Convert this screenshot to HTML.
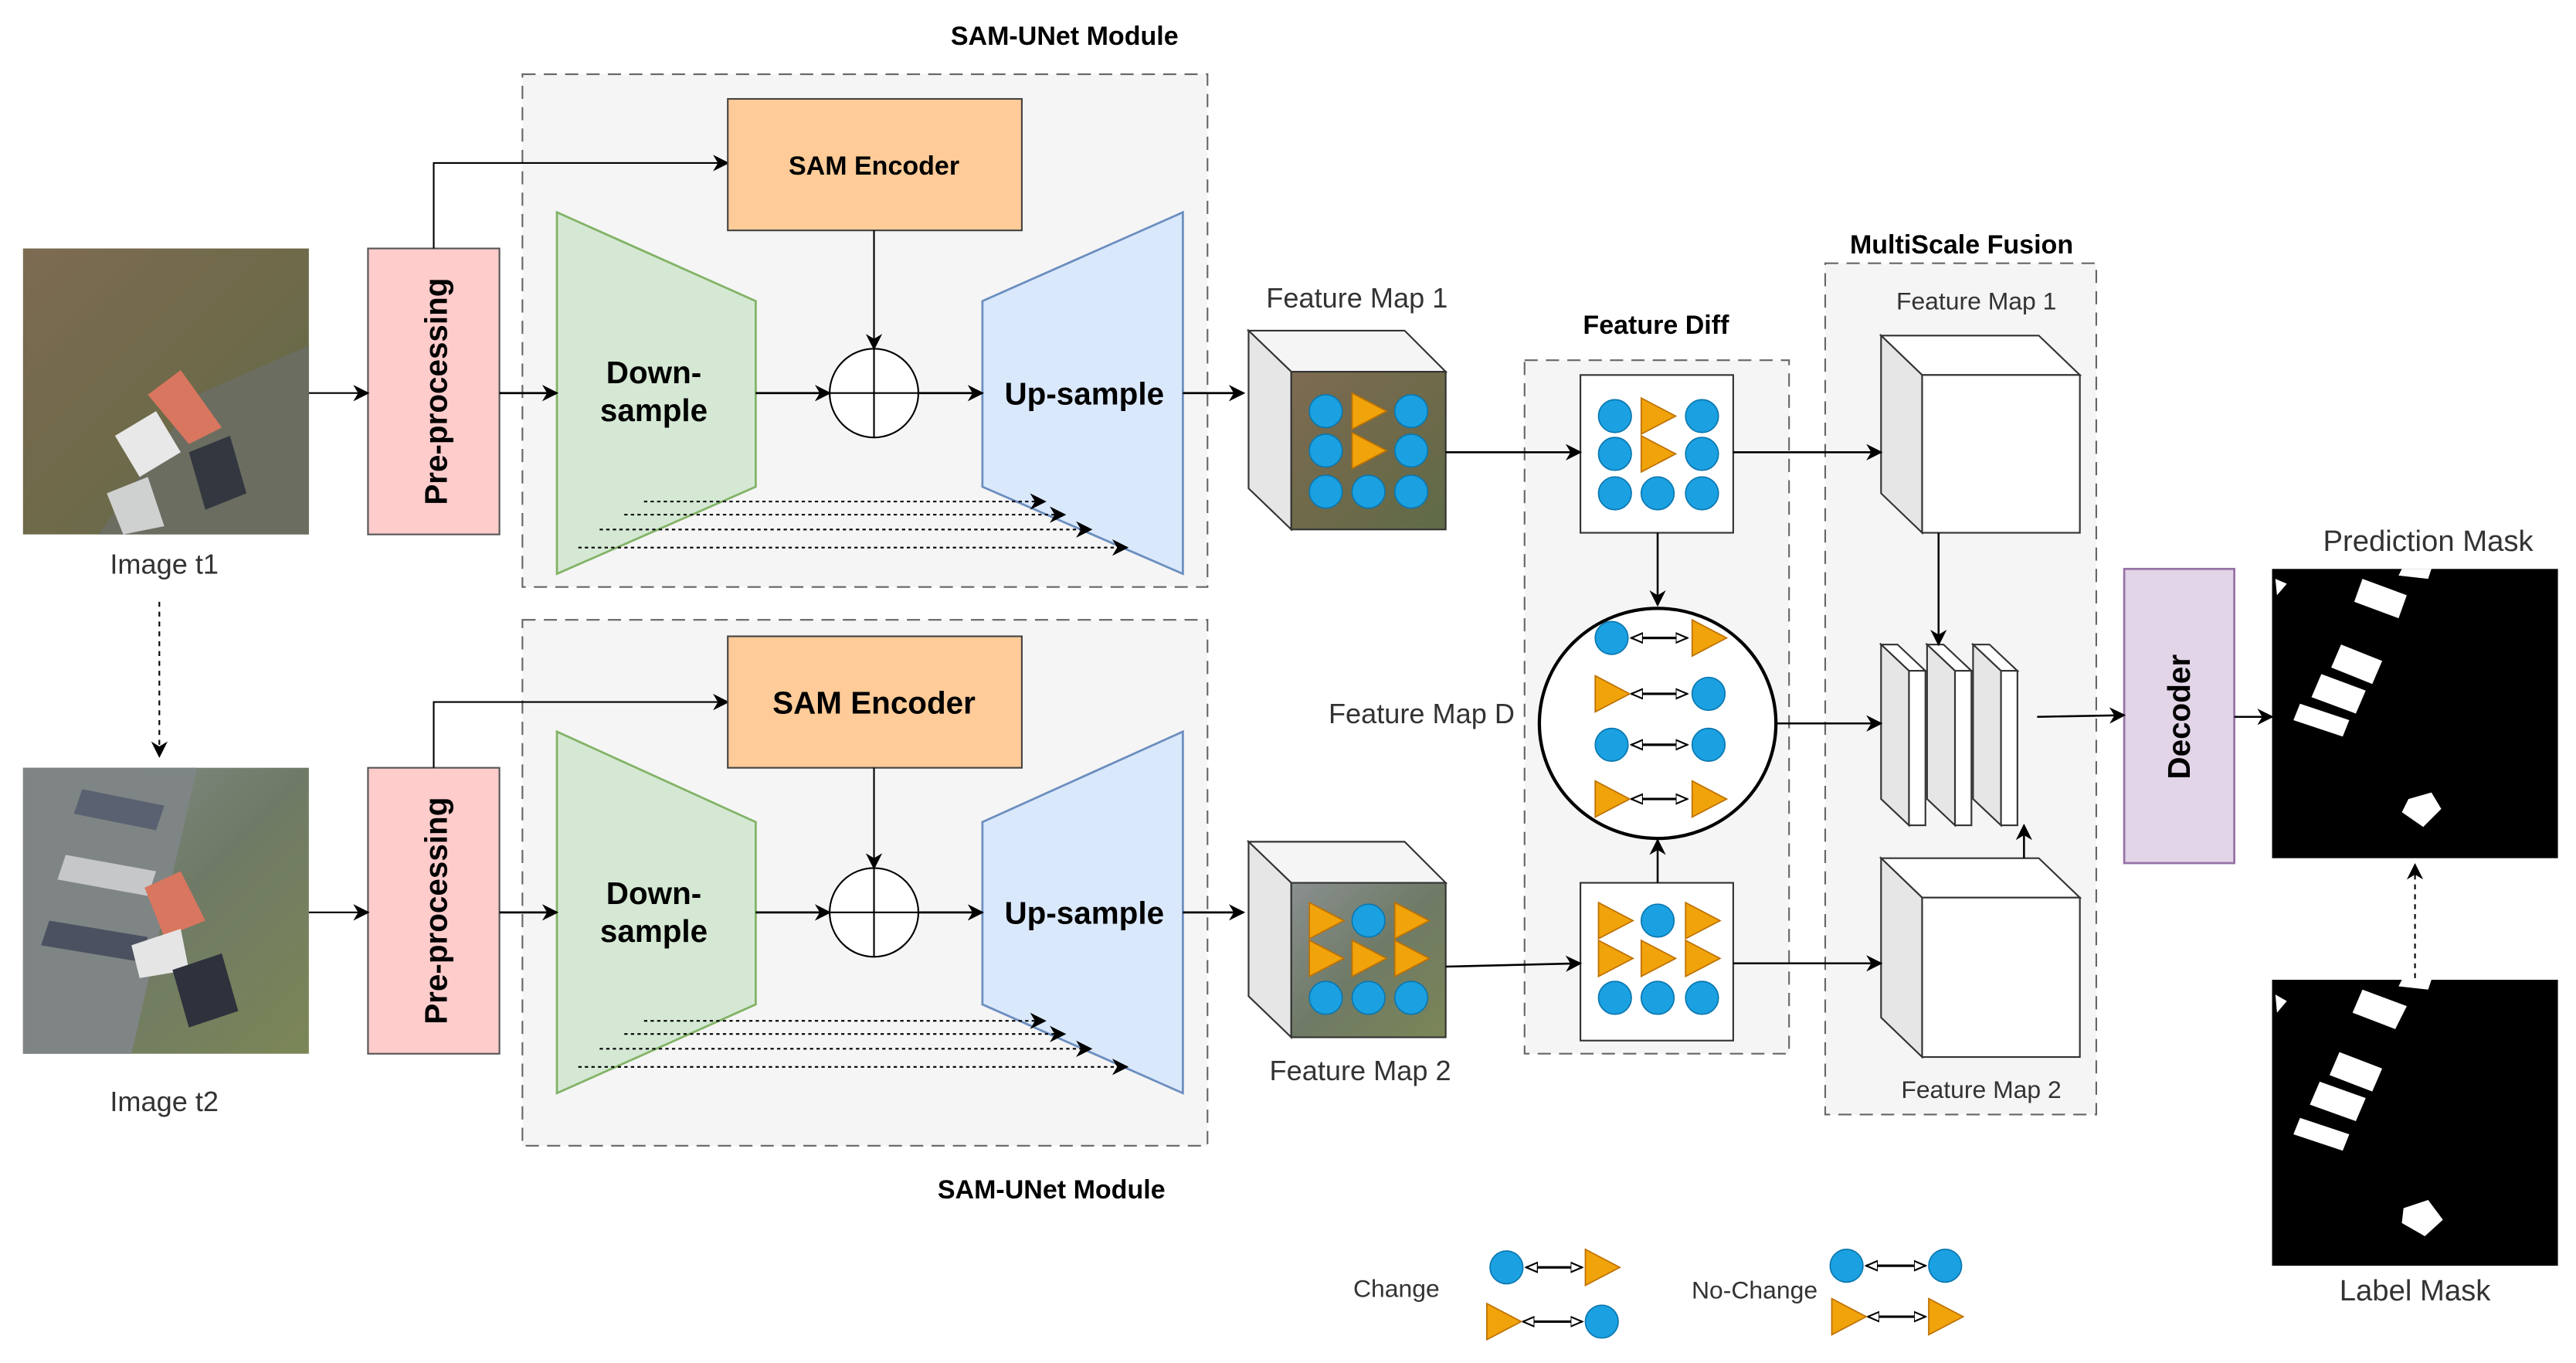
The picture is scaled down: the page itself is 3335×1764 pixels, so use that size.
<!DOCTYPE html>
<html><head><meta charset="utf-8"><style>
html,body{margin:0;padding:0;background:#fff;}
svg{display:block;}
text{font-family:"Liberation Sans",sans-serif;}
</style></head><body>
<svg width="3335" height="1764" viewBox="0 0 1568 829" xmlns="http://www.w3.org/2000/svg">
<defs>
<marker id="ah" markerWidth="10" markerHeight="10" refX="9" refY="5" orient="auto" markerUnits="userSpaceOnUse"><path d="M0,0 L10,5 L0,10 L3,5 Z" fill="#000"/></marker>
<marker id="oe" markerWidth="8" markerHeight="8" refX="7" refY="4" orient="auto" markerUnits="userSpaceOnUse"><path d="M0,1 L7,4 L0,7 Z" fill="#fff" stroke="#000" stroke-width="1"/></marker>
<marker id="os" markerWidth="8" markerHeight="8" refX="1" refY="4" orient="auto" markerUnits="userSpaceOnUse"><path d="M8,1 L1,4 L8,7 Z" fill="#fff" stroke="#000" stroke-width="1"/></marker>
<linearGradient id="g1" x1="0" y1="0" x2="1" y2="1"><stop offset="0" stop-color="#7d6b52"/><stop offset="0.5" stop-color="#6f6a4a"/><stop offset="1" stop-color="#5f6b47"/></linearGradient>
<linearGradient id="g2" x1="0" y1="0" x2="1" y2="1"><stop offset="0" stop-color="#8a9090"/><stop offset="0.5" stop-color="#6f7a66"/><stop offset="1" stop-color="#7b8656"/></linearGradient>
<g id="C"><circle r="10" fill="#1ba1e2" stroke="#0b78b0" stroke-width="0.8"/></g>
<g id="T"><polygon points="-10,-11 11,0 -10,11" fill="#f0a30a" stroke="#bd7000" stroke-width="0.8"/></g>
</defs>

<text x="648" y="27" font-size="16" font-weight="bold" text-anchor="middle">SAM-UNet Module</text>
<text x="640" y="729" font-size="16" font-weight="bold" text-anchor="middle">SAM-UNet Module</text>

<rect x="318" y="45" width="417" height="312" fill="#f5f5f5" stroke="#666" stroke-dasharray="8,5"/>
<rect x="318" y="377" width="417" height="320" fill="#f5f5f5" stroke="#666" stroke-dasharray="8,5"/>

<rect x="14" y="151" width="174" height="174" fill="url(#g1)"/>
<polygon points="60,325 120,240 188,210 188,325" fill="#6b6d60"/>
<polygon points="90,240 110,225 135,260 115,270" fill="#d9765f"/>
<polygon points="70,265 95,250 110,275 85,290" fill="#e8e8e8"/>
<polygon points="115,275 140,265 150,300 125,310" fill="#333840"/>
<polygon points="65,300 90,290 100,320 75,325" fill="#cfd0d0"/>
<text x="100" y="349" font-size="17" text-anchor="middle" fill="#333">Image t1</text>
<rect x="14" y="467" width="174" height="174" fill="url(#g2)"/>
<polygon points="14,467 120,467 80,641 14,641" fill="#7f8585"/>
<polygon points="50,480 100,490 95,505 45,495" fill="#5a6170"/>
<polygon points="40,520 95,530 90,545 35,535" fill="#c5c7c8"/>
<polygon points="30,560 90,570 85,585 25,575" fill="#4b5160"/>
<polygon points="88,540 110,530 125,560 100,570" fill="#d9765f"/>
<polygon points="80,575 110,565 115,590 85,595" fill="#e5e5e5"/>
<polygon points="105,590 135,580 145,615 115,625" fill="#2d323c"/>
<text x="100" y="676" font-size="17" text-anchor="middle" fill="#333">Image t2</text>
<line x1="97" y1="366" x2="97" y2="460" stroke="#000" stroke-dasharray="3,3" marker-end="url(#ah)"/>

<rect x="224" y="151" width="80" height="174" fill="#ffcccc" stroke="#555"/>
<text transform="translate(272,238) rotate(-90)" font-size="19" font-weight="bold" text-anchor="middle">Pre-processing</text>
<rect x="224" y="467" width="80" height="174" fill="#ffcccc" stroke="#555"/>
<text transform="translate(272,554) rotate(-90)" font-size="19" font-weight="bold" text-anchor="middle">Pre-processing</text>
<line x1="188" y1="239" x2="224" y2="239" stroke="#000" marker-end="url(#ah)"/>
<line x1="188" y1="555" x2="224" y2="555" stroke="#000" marker-end="url(#ah)"/>
<polyline points="264,151 264,99 443,99" fill="none" stroke="#000" marker-end="url(#ah)"/>
<polyline points="264,467 264,427 443,427" fill="none" stroke="#000" marker-end="url(#ah)"/>

<rect x="443" y="60" width="179" height="80" fill="#ffcc99" stroke="#444"/>
<text x="532" y="106" font-size="16" font-weight="bold" text-anchor="middle">SAM  Encoder</text>
<rect x="443" y="387" width="179" height="80" fill="#ffcc99" stroke="#444"/>
<text x="532" y="434" font-size="19" font-weight="bold" text-anchor="middle">SAM Encoder</text>

<polygon points="339,129 460,183 460,296 339,349" fill="#d5e8d4" stroke="#82b366" stroke-width="1.3"/>
<text x="398" y="233" font-size="19" font-weight="bold" text-anchor="middle">Down-</text>
<text x="398" y="256" font-size="19" font-weight="bold" text-anchor="middle">sample</text>
<polygon points="339,445 460,500 460,611 339,665" fill="#d5e8d4" stroke="#82b366" stroke-width="1.3"/>
<text x="398" y="550" font-size="19" font-weight="bold" text-anchor="middle">Down-</text>
<text x="398" y="573" font-size="19" font-weight="bold" text-anchor="middle">sample</text>
<polygon points="598,183 720,129 720,349 598,296" fill="#dae8fc" stroke="#6c8ebf" stroke-width="1.3"/>
<text x="660" y="246" font-size="19" font-weight="bold" text-anchor="middle">Up-sample</text>
<polygon points="598,500 720,445 720,665 598,611" fill="#dae8fc" stroke="#6c8ebf" stroke-width="1.3"/>
<text x="660" y="562" font-size="19" font-weight="bold" text-anchor="middle">Up-sample</text>

<g stroke="#000" fill="#fff"><circle cx="532" cy="239" r="27"/><circle cx="532" cy="555" r="27"/></g>
<g stroke="#000"><line x1="505" y1="239" x2="559" y2="239"/><line x1="532" y1="212" x2="532" y2="266"/>
<line x1="505" y1="555" x2="559" y2="555"/><line x1="532" y1="528" x2="532" y2="582"/></g>
<line x1="532" y1="140" x2="532" y2="212" stroke="#000" marker-end="url(#ah)"/>
<line x1="532" y1="467" x2="532" y2="528" stroke="#000" marker-end="url(#ah)"/>
<g stroke="#000" stroke-width="1.3">
<line x1="304" y1="239" x2="339" y2="239" marker-end="url(#ah)"/>
<line x1="460" y1="239" x2="505" y2="239" marker-end="url(#ah)"/>
<line x1="559" y1="239" x2="598" y2="239" marker-end="url(#ah)"/>
<line x1="720" y1="239" x2="757" y2="239" marker-end="url(#ah)"/>
<line x1="304" y1="555" x2="339" y2="555" marker-end="url(#ah)"/>
<line x1="460" y1="555" x2="505" y2="555" marker-end="url(#ah)"/>
<line x1="559" y1="555" x2="598" y2="555" marker-end="url(#ah)"/>
<line x1="720" y1="555" x2="757" y2="555" marker-end="url(#ah)"/>
</g>
<g stroke="#000" stroke-dasharray="2,2">
<line x1="392" y1="305" x2="636" y2="305" marker-end="url(#ah)"/>
<line x1="380" y1="313" x2="648" y2="313" marker-end="url(#ah)"/>
<line x1="365" y1="322" x2="664" y2="322" marker-end="url(#ah)"/>
<line x1="352" y1="333" x2="686" y2="333" marker-end="url(#ah)"/>
<line x1="392" y1="621" x2="636" y2="621" marker-end="url(#ah)"/>
<line x1="380" y1="629" x2="648" y2="629" marker-end="url(#ah)"/>
<line x1="365" y1="638" x2="664" y2="638" marker-end="url(#ah)"/>
<line x1="352" y1="649" x2="686" y2="649" marker-end="url(#ah)"/>
</g>

<text x="826" y="187" font-size="17" text-anchor="middle" fill="#333">Feature Map 1</text>
<polygon points="760,201 855,201 880,226 786,226" fill="#f5f5f5" stroke="#333"/>
<polygon points="760,201 786,226 786,322 760,297" fill="#e6e6e6" stroke="#333"/>
<rect x="786" y="226" width="94" height="96" fill="url(#g1)" stroke="#333"/>
<use href="#C" x="807" y="250"/><use href="#T" x="833" y="250"/><use href="#C" x="859" y="250"/>
<use href="#C" x="807" y="274"/><use href="#T" x="833" y="274"/><use href="#C" x="859" y="274"/>
<use href="#C" x="807" y="299"/><use href="#C" x="833" y="299"/><use href="#C" x="859" y="299"/>
<text x="828" y="657" font-size="17" text-anchor="middle" fill="#333">Feature Map 2</text>
<polygon points="760,512 855,512 880,537 786,537" fill="#f5f5f5" stroke="#333"/>
<polygon points="760,512 786,537 786,631 760,606" fill="#e6e6e6" stroke="#333"/>
<rect x="786" y="537" width="94" height="94" fill="url(#g2)" stroke="#333"/>
<use href="#T" x="807" y="560"/><use href="#C" x="833" y="560"/><use href="#T" x="859" y="560"/>
<use href="#T" x="807" y="583"/><use href="#T" x="833" y="583"/><use href="#T" x="859" y="583"/>
<use href="#C" x="807" y="607"/><use href="#C" x="833" y="607"/><use href="#C" x="859" y="607"/>

<text x="1008" y="203" font-size="16" font-weight="bold" text-anchor="middle">Feature Diff</text>
<rect x="928" y="219" width="161" height="422" fill="#f5f5f5" stroke="#666" stroke-dasharray="8,5"/>
<rect x="962" y="228" width="93" height="96" fill="#fff" stroke="#333"/>
<use href="#C" x="983" y="253"/><use href="#T" x="1009" y="253"/><use href="#C" x="1036" y="253"/>
<use href="#C" x="983" y="276"/><use href="#T" x="1009" y="276"/><use href="#C" x="1036" y="276"/>
<use href="#C" x="983" y="300"/><use href="#C" x="1009" y="300"/><use href="#C" x="1036" y="300"/>
<rect x="962" y="537" width="93" height="96" fill="#fff" stroke="#333"/>
<use href="#T" x="983" y="560"/><use href="#C" x="1009" y="560"/><use href="#T" x="1036" y="560"/>
<use href="#T" x="983" y="583"/><use href="#T" x="1009" y="583"/><use href="#T" x="1036" y="583"/>
<use href="#C" x="983" y="607"/><use href="#C" x="1009" y="607"/><use href="#C" x="1036" y="607"/>
<ellipse cx="1009" cy="440" rx="72" ry="70" fill="#fff" stroke="#000" stroke-width="2"/>
<g stroke="#000" stroke-width="1.5">
<line x1="993" y1="388" x2="1027" y2="388" marker-start="url(#os)" marker-end="url(#oe)"/>
<line x1="993" y1="422" x2="1027" y2="422" marker-start="url(#os)" marker-end="url(#oe)"/>
<line x1="993" y1="453" x2="1027" y2="453" marker-start="url(#os)" marker-end="url(#oe)"/>
<line x1="993" y1="486" x2="1027" y2="486" marker-start="url(#os)" marker-end="url(#oe)"/>
</g>
<use href="#C" x="981" y="388"/><use href="#T" x="1040" y="388"/>
<use href="#T" x="981" y="422"/><use href="#C" x="1040" y="422"/>
<use href="#C" x="981" y="453"/><use href="#C" x="1040" y="453"/>
<use href="#T" x="981" y="486"/><use href="#T" x="1040" y="486"/>
<text x="922" y="440" font-size="17" text-anchor="end" fill="#333">Feature Map D</text>

<text x="1194" y="154" font-size="16" font-weight="bold" text-anchor="middle">MultiScale Fusion</text>
<rect x="1111" y="160" width="165" height="518" fill="#f5f5f5" stroke="#666" stroke-dasharray="8,5"/>
<text x="1203" y="188" font-size="15" text-anchor="middle" fill="#333">Feature Map 1</text>
<text x="1206" y="668" font-size="15" text-anchor="middle" fill="#333">Feature Map 2</text>
<polygon points="1145,204 1241,204 1266,228 1170,228" fill="#fff" stroke="#333"/>
<polygon points="1145,204 1170,228 1170,324 1145,300" fill="#e6e6e6" stroke="#333"/>
<rect x="1170" y="228" width="96" height="96" fill="#fff" stroke="#333"/>
<polygon points="1145,522 1241,522 1266,546 1170,546" fill="#fff" stroke="#333"/>
<polygon points="1145,522 1170,546 1170,643 1145,619" fill="#e6e6e6" stroke="#333"/>
<rect x="1170" y="546" width="96" height="97" fill="#fff" stroke="#333"/>
<g stroke="#333" stroke-width="1">
<polygon points="1145,392 1155,392 1172,408 1162,408" fill="#fff"/>
<polygon points="1145,392 1162,408 1162,502 1145,486" fill="#e6e6e6"/>
<rect x="1162" y="408" width="10" height="94" fill="#fff"/>
<polygon points="1173,392 1183,392 1200,408 1190,408" fill="#fff"/>
<polygon points="1173,392 1190,408 1190,502 1173,486" fill="#e6e6e6"/>
<rect x="1190" y="408" width="10" height="94" fill="#fff"/>
<polygon points="1201,392 1211,392 1228,408 1218,408" fill="#fff"/>
<polygon points="1201,392 1218,408 1218,502 1201,486" fill="#e6e6e6"/>
<rect x="1218" y="408" width="10" height="94" fill="#fff"/>
</g>

<rect x="1293" y="346" width="67" height="179" fill="#e1d5e7" stroke="#9673a6" stroke-width="1.3"/>
<text transform="translate(1333,436) rotate(-90)" font-size="19" font-weight="bold" text-anchor="middle">Decoder</text>

<!-- connectors drawn last -->
<g stroke="#000" stroke-width="1.2">
<line x1="880" y1="275" x2="962" y2="275" marker-end="url(#ah)"/>
<line x1="880" y1="588" x2="962" y2="586" marker-end="url(#ah)"/>
<line x1="1009" y1="324" x2="1009" y2="368" marker-end="url(#ah)"/>
<line x1="1009" y1="537" x2="1009" y2="511" marker-end="url(#ah)"/>
<line x1="1055" y1="275" x2="1145" y2="275" marker-end="url(#ah)"/>
<line x1="1055" y1="586" x2="1145" y2="586" marker-end="url(#ah)"/>
<line x1="1081" y1="440" x2="1145" y2="440" marker-end="url(#ah)"/>
<line x1="1180" y1="324" x2="1180" y2="392" marker-end="url(#ah)"/>
<line x1="1232" y1="522" x2="1232" y2="502" marker-end="url(#ah)"/>
<line x1="1240" y1="436" x2="1293" y2="435" marker-end="url(#ah)"/>
<line x1="1360" y1="436" x2="1383" y2="436" marker-end="url(#ah)"/>
</g>

<text x="1478" y="335" font-size="18" text-anchor="middle" fill="#333">Prediction Mask</text>
<rect x="1383" y="346" width="174" height="176" fill="#000"/>
<g fill="#fff">
<polygon points="1438,352 1465,362 1460,376 1433,366"/>
<polygon points="1462,346 1480,346 1478,352 1460,350"/>
<polygon points="1425,392 1450,402 1444,416 1419,406"/>
<polygon points="1413,410 1440,420 1434,434 1407,424"/>
<polygon points="1400,428 1430,438 1426,448 1396,438"/>
<polygon points="1466,486 1480,482 1486,492 1475,503 1462,494"/>
<polygon points="1385,352 1392,355 1386,362"/>
</g>
<text x="1470" y="791" font-size="18" text-anchor="middle" fill="#333">Label Mask</text>
<rect x="1383" y="596" width="174" height="174" fill="#000"/>
<g fill="#fff">
<polygon points="1438,602 1465,612 1458,626 1432,616"/>
<polygon points="1462,596 1480,596 1478,602 1460,600"/>
<polygon points="1424,640 1450,650 1444,664 1418,654"/>
<polygon points="1412,658 1440,668 1434,682 1406,672"/>
<polygon points="1400,680 1430,690 1426,700 1396,690"/>
<polygon points="1463,735 1478,730 1487,742 1476,752 1462,744"/>
<polygon points="1385,605 1392,609 1386,616"/>
</g>
<line x1="1470" y1="595" x2="1470" y2="526" stroke="#000" stroke-dasharray="3,3" marker-end="url(#ah)"/>

<text x="850" y="789" font-size="15" text-anchor="middle" fill="#333">Change</text>
<text x="1068" y="790" font-size="15" text-anchor="middle" fill="#333">No-Change</text>
<g stroke="#000" stroke-width="1.5">
<line x1="929" y1="771" x2="963" y2="771" marker-start="url(#os)" marker-end="url(#oe)"/>
<line x1="927" y1="804" x2="963" y2="804" marker-start="url(#os)" marker-end="url(#oe)"/>
<line x1="1136" y1="770" x2="1172" y2="770" marker-start="url(#os)" marker-end="url(#oe)"/>
<line x1="1137" y1="801" x2="1172" y2="801" marker-start="url(#os)" marker-end="url(#oe)"/>
</g>
<use href="#C" x="917" y="771"/><use href="#T" x="975" y="771"/>
<use href="#T" x="915" y="804"/><use href="#C" x="975" y="804"/>
<use href="#C" x="1124" y="770"/><use href="#C" x="1184" y="770"/>
<use href="#T" x="1125" y="801"/><use href="#T" x="1184" y="801"/>
</svg>
</body></html>
